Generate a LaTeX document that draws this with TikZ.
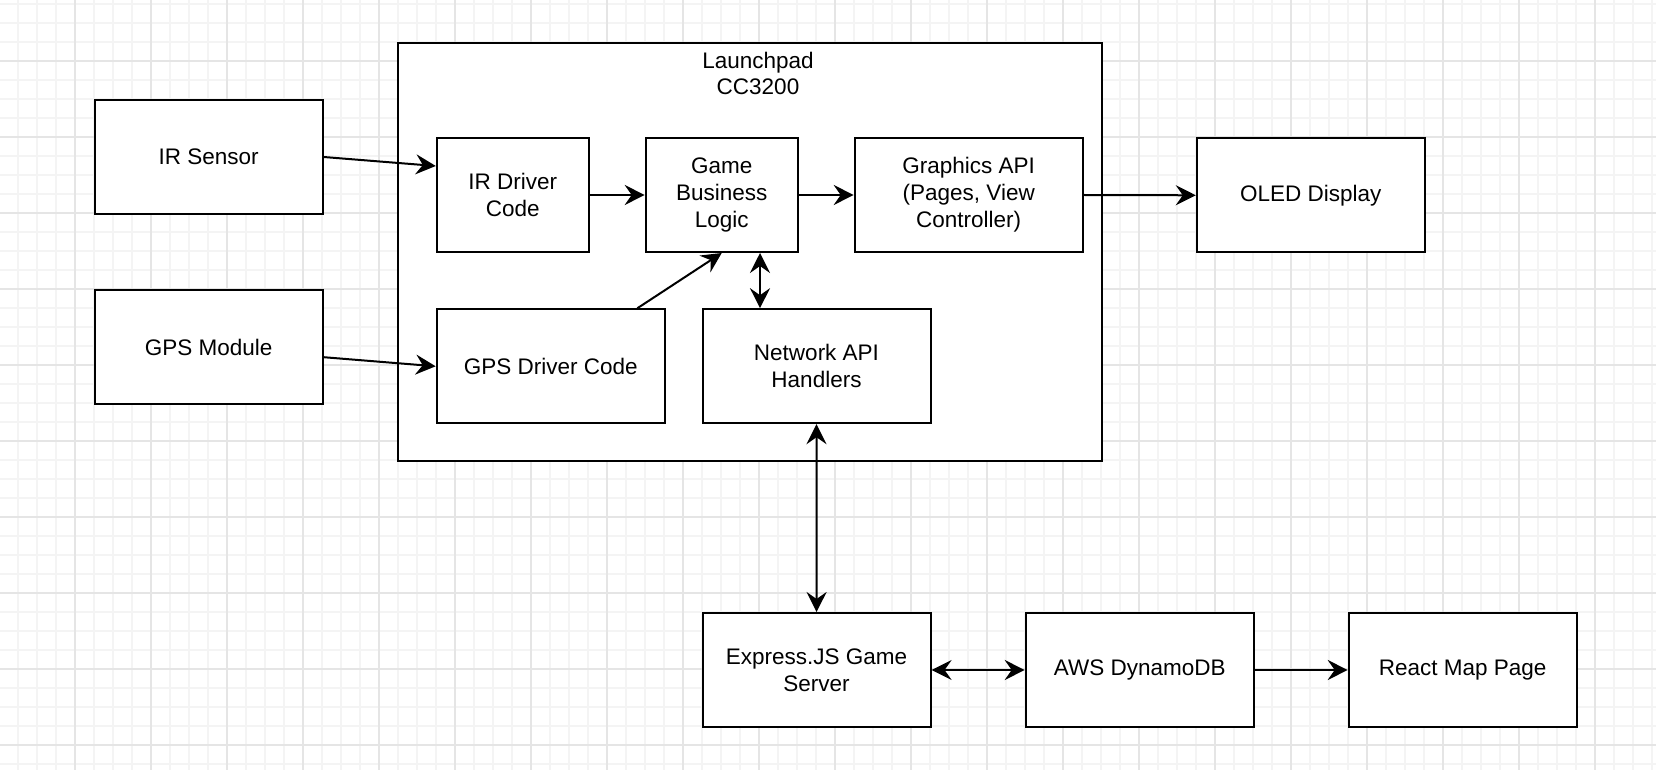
\documentclass[tikz,border=0pt]{standalone}
\usepackage{fontspec}
\setmainfont{Liberation Sans}
\usetikzlibrary{arrows.meta,calc}
\definecolor{gmaj}{HTML}{E5E5E5}
\definecolor{gmin}{HTML}{F4F4F4}
\tikzset{
  box/.style={draw=black, fill=white, line width=1pt, inner sep=2pt, align=center, font=\fontsize{11.25pt}{13.5pt}\selectfont},
  wbox/.style={box, minimum width=114pt, minimum height=57pt},
  nbox/.style={box, minimum width=76pt, minimum height=57pt},
  lbl/.style={align=center, inner sep=0pt, font=\fontsize{11.25pt}{13pt}\selectfont},
  conn/.style={line width=1pt, -{Stealth[length=10pt,width=10pt,inset=3.5pt]}},
  bconn/.style={line width=1pt, {Stealth[length=10pt,width=10pt,inset=3.5pt]}-{Stealth[length=10pt,width=10pt,inset=3.5pt]}},
  gridmin/.style={draw=gmin, line width=0.7pt},
  gridmaj/.style={draw=gmaj, line width=0.7pt},
}
\begin{document}
\begin{tikzpicture}[x=0.5pt,y=-0.5pt]
\useasboundingbox (0,0) rectangle (1656,770);
\fill[white] (0,0) rectangle (1656,770);
\begin{scope}
\clip (0,0) rectangle (1656,770);
\foreach \i in {0,...,88} \draw[gridmin] ({-1+19*\i},0) -- ({-1+19*\i},770);
\foreach \i in {0,...,41} \draw[gridmin] (0,{-15+19*\i}) -- (1656,{-15+19*\i});
\foreach \i in {0,...,22} \draw[gridmaj] ({-1+76*\i},0) -- ({-1+76*\i},770);
\foreach \i in {0,...,11} \draw[gridmaj] (0,{-15+76*\i}) -- (1656,{-15+76*\i});
\end{scope}

% container
\node[box, minimum width=351.7pt, minimum height=208.85pt] (lp) at (750,252.2) {};
\node[lbl] (lpl) at (758,73) {Launchpad\\CC3200};

% outside boxes
\node[wbox] (irs) at (208.7,157) {IR Sensor};
\node[wbox] (gpsm) at (208.7,347.2) {GPS Module};
\node[wbox] (oled) at (1310.8,195.3) {OLED Display};
\node[wbox] (exp) at (816.6,670) {Express.JS Game\\Server};
\node[wbox] (aws) at (1139.7,670) {AWS DynamoDB};
\node[wbox] (react) at (1462.7,670) {React Map Page};

% inside boxes
\node[nbox] (ird) at (512.8,195) {IR Driver\\Code};
\node[nbox] (game) at (721.7,195) {Game\\Business\\Logic};
\node[wbox] (gfx) at (968.7,195) {Graphics API\\(Pages, View\\Controller)};
\node[wbox] (gpsd) at (550.7,366.3) {GPS Driver Code};
\node[wbox] (net) at (816.5,366.2) {Network API\\Handlers};

% connectors
\draw[conn] (irs.east) -- ($(ird.west)+(0,-29)$);
\draw[conn] ($(gpsm.east)+(0,10)$) -- (gpsd.west);
\draw[conn] (ird.east) -- (game.west);
\draw[conn] (game.east) -- (gfx.west);
\draw[conn] (gfx.east) -- (oled.west);
\draw[conn] ($(gpsd.north)+(86.6,0)$) -- (game.south);
\coordinate (gn) at ($(game.south)+(38.3,0)$);
\draw[bconn] (gn) -- (gn |- net.north);
\draw[bconn] (net.south) -- (exp.north);
\draw[bconn] (exp.east) -- (aws.west);
\draw[conn] (aws.east) -- (react.west);
\end{tikzpicture}
\end{document}
